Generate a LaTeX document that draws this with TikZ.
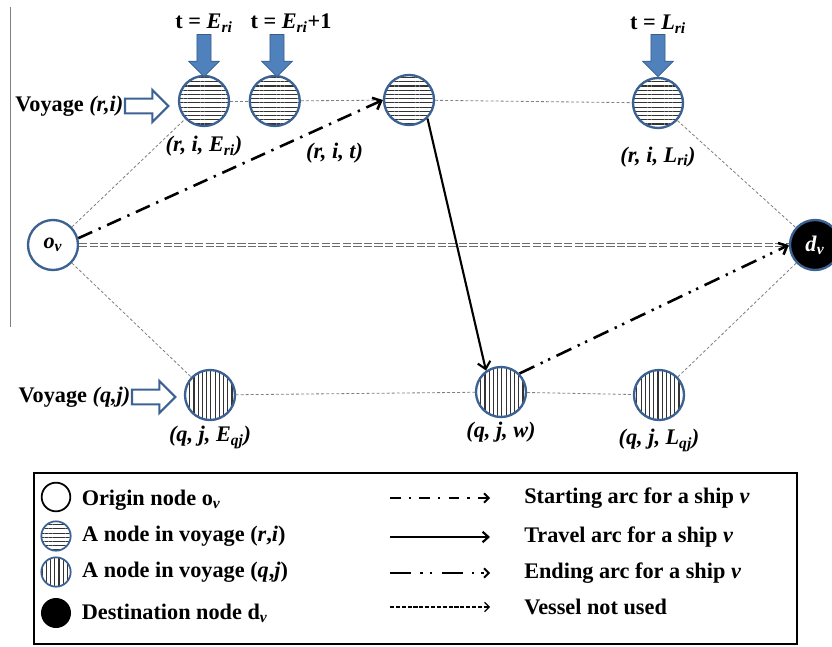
\documentclass[tikz,border=0pt]{standalone}
\usepackage{fontspec}
\setmainfont{Liberation Serif}
\usetikzlibrary{positioning, arrows.meta, patterns.meta, shapes.arrows}

\definecolor{nodeblue}{RGB}{60,98,148}
\definecolor{arrowblue}{RGB}{79,129,189}
\definecolor{arrowedge}{RGB}{56,93,138}

\newcommand{\symsub}[2]{\textit{#1}\textsubscript{\textit{#2}}}

\begin{document}
\begin{tikzpicture}[
    x=0.03cm, y=-0.03cm, % one unit is one pixel of the sketch
    every node/.style={font=\fontsize{19}{22}\selectfont\bfseries},
    ristate/.style={circle, draw=nodeblue, line width=2pt, minimum size=1.5cm, inner sep=0pt,
        pattern={Lines[angle=0, distance=3.6pt, line width=1pt]}, pattern color=black!80},
    qjstate/.style={ristate, pattern={Lines[angle=90, distance=3.6pt, line width=1pt]}},
    endstate/.style={circle, draw=nodeblue, line width=2pt, minimum size=1.5cm, inner sep=0pt},
    timearrow/.style={single arrow, shape border rotate=270, fill=arrowblue, draw=arrowedge,
        line width=0.6pt, inner sep=0.2cm, single arrow head extend=0.25cm, minimum height=1.26cm},
    voyarrow/.style={single arrow, draw=nodeblue, fill=white, line width=1.8pt, inner sep=0.19cm,
        single arrow head extend=0.26cm, minimum height=1.3cm},
    linkline/.style={draw=gray, line width=0.7pt, dash pattern=on 2.5pt off 1.8pt},
    startarc/.style={line width=2.2pt, dash pattern=on 13pt off 6pt on 2pt off 6pt,
        -{Straight Barb[length=6pt, width=11pt]}},
    travelarc/.style={line width=1.8pt, -{Straight Barb[length=6pt, width=11pt]}},
    endarc/.style={line width=2.2pt, dash pattern=on 14pt off 6pt on 2pt off 5pt on 2pt off 6pt,
        -{Straight Barb[length=6pt, width=11pt]}},
    unusedarc/.style={draw=gray!85!black, double=white, double distance=1.5pt, line width=1.3pt,
        dash pattern=on 7pt off 2pt},
    unusedkey/.style={line width=1pt, dash pattern=on 3.5pt off 1.5pt,
        -{Straight Barb[length=4pt, width=8pt]}},
    keytext/.style={inner sep=2pt, anchor=west}
]
    \useasboundingbox (0,0) rectangle (832,647);

    % left border line
    \draw[gray, line width=0.8pt] (10,7) -- (10,327);

    % origin and destination
    \node[endstate, fill=white] (ov) at (53,245) {\symsub{o}{v}};
    \node[endstate, fill=black, text=white] (dv) at (815,245) {\symsub{d}{v}};

    % voyage (r,i)
    \node[ristate] (rE) at (204,101) {};
    \node[ristate, right=0.57cm of rE] (rE1) {};
    \node[ristate] (rt) at (409,100) {};
    \node[ristate] (rL) at (658,103) {};

    % voyage (q,j)
    \node[qjstate] (qE) at (210,395) {};
    \node[qjstate] (qw) at (501,392) {};
    \node[qjstate] (qL) at (659,395) {};

    % node labels
    \node[below=0.15cm of rE] {\textit{(r, i, E\textsubscript{ri})}};
    \node[below left=0.62cm and 0.7cm of rt] {\textit{(r, i, t)}};
    \node[below=0.4cm of rL] {\textit{(r, i, L\textsubscript{ri})}};
    \node[below=0.03cm of qE] {\textit{(q, j, E\textsubscript{qj})}};
    \node[below=0cm of qw] {\textit{(q, j, w)}};
    \node[below=0.12cm of qL] {\textit{(q, j, L\textsubscript{qj})}};

    % time arrows
    \node[timearrow] (tE) at (204,52) {};
    \node[timearrow] (tE1) at (277,52) {};
    \node[timearrow] (tL) at (658,52) {};
    \node[above=-2pt of tE] {t = \symsub{E}{ri}};
    \node[above=-2pt of tE1, xshift=0.42cm] {t = \symsub{E}{ri}+1};
    \node[above=-3pt of tL] {t = \symsub{L}{ri}};

    % voyage arrows
    \node[voyarrow] (rvoy) at (143,106) {};
    \node[left=-3pt of rvoy] {Voyage \textit{(r,i)}};
    \node[voyarrow] (qvoy) at (150,397) {};
    \node[left=-3pt of qvoy] {Voyage \textit{(q,j)}};

    % network links
    \draw[linkline] (ov) -- (rE);
    \draw[linkline] (rE) -- (rE1);
    \draw[linkline] (rE1) -- (rt);
    \draw[linkline] (rt) -- (rL);
    \draw[linkline] (rL) -- (dv);
    \draw[linkline] (ov) -- (qE);
    \draw[linkline] (qE) -- (qw);
    \draw[linkline] (qw) -- (qL);
    \draw[linkline] (qL) -- (dv);

    % ship arcs
    \draw[unusedarc] (ov) -- (dv);
    \draw[startarc] (ov.15) -- (rt.west);
    \draw[travelarc] (rt.-45) -- (qw.125);
    \draw[endarc] (qw.45) -- (dv.west);

    % legend
    \draw[line width=1.5pt] (34,473) rectangle (797,644);
    \node[circle, draw=black, line width=1.5pt, minimum size=0.86cm, inner sep=0pt] (lgo) at (56,497) {};
    \node[ristate, line width=1.5pt, minimum size=0.88cm] (lgr) at (56,536) {};
    \node[qjstate, line width=1.5pt, minimum size=0.88cm] (lgq) at (56,572) {};
    \node[circle, fill=black, minimum size=0.9cm, inner sep=0pt] (lgd) at (56,613) {};
    \node[keytext, right=0.24cm of lgo, yshift=-0.1cm] {Origin node o\textsubscript{\textit{v}}};
    \node[keytext, right=0.24cm of lgr] {A node in voyage (\textit{r},\textit{i})};
    \node[keytext, right=0.24cm of lgq] {A node in voyage (\textit{q},\textit{j})};
    \node[keytext, right=0.24cm of lgd] {Destination node d\textsubscript{\textit{v}}};

    \coordinate (ks1) at (390,498); \coordinate (ke1) at (490,498);
    \coordinate (ks2) at (390,537); \coordinate (ke2) at (490,537);
    \coordinate (ks3) at (390,573); \coordinate (ke3) at (490,573);
    \coordinate (ks4) at (390,607); \coordinate (ke4) at (490,607);
    \draw[startarc, line width=1.6pt, dash pattern=on 9pt off 7pt on 2pt off 7pt,
        -{Straight Barb[length=4pt, width=8pt]}] (ks1) -- (ke1);
    \draw[travelarc, -{Straight Barb[length=5pt, width=9pt]}] (ks2) -- (ke2);
    \draw[endarc, line width=1.6pt, dash pattern=on 18pt off 8pt on 2pt off 6pt on 2pt off 8pt,
        -{Straight Barb[length=4pt, width=8pt]}] (ks3) -- (ke3);
    \draw[unusedkey] (ks4) -- (ke4);
    \node[keytext, right=0.95cm of ke1] {Starting arc for a ship \textit{v}};
    \node[keytext, right=0.95cm of ke2] {Travel arc for a ship \textit{v}};
    \node[keytext, right=0.95cm of ke3] {Ending arc for a ship \textit{v}};
    \node[keytext, right=0.95cm of ke4] {Vessel not used};
\end{tikzpicture}
\end{document}
